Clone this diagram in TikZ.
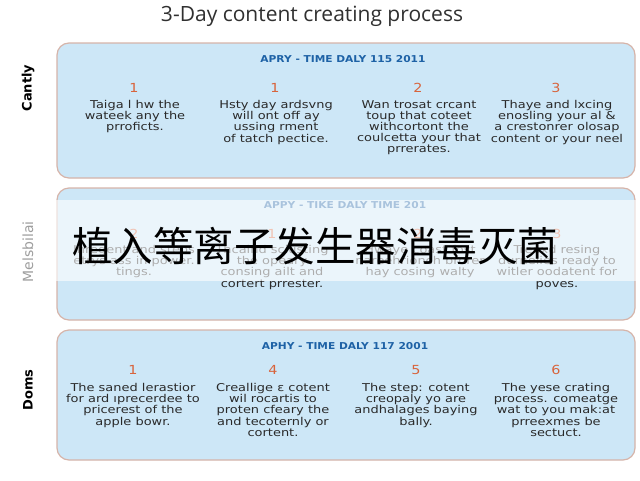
\documentclass[tikz,border=0pt]{standalone}
\usepackage{fontspec}
\setmainfont{DejaVu Sans}
\newfontfamily\bodyfont[FakeStretch=1.2]{DejaVu Sans}
\newfontfamily\numfont[FakeStretch=1.15]{DejaVu Sans}
\newfontfamily\headfont[FakeStretch=1.12]{DejaVu Sans}
\newfontfamily\titlefont{Open Sans}
\newfontfamily\cjkfont{Noto Sans CJK SC}
\definecolor{panelfill}{HTML}{CDE7F7}
\definecolor{panelborder}{HTML}{D6B4A9}
\definecolor{hdrblue}{HTML}{1E62A6}
\definecolor{numorange}{HTML}{D8643C}
\definecolor{bodygray}{HTML}{2A2A2A}
\definecolor{titlegray}{HTML}{303030}
\tikzset{
  panelbox/.style={draw=panelborder, line width=1.2pt, fill=panelfill, rounded corners=12pt},
  hdr/.style={font=\headfont\bfseries\fontsize{9.5}{11}\selectfont, text=hdrblue, inner sep=0pt},
  num/.style={font=\numfont\fontsize{12.5}{14}\selectfont, text=numorange, inner sep=0pt},
  body/.style={font=\bodyfont\fontsize{10.8}{11.2}\selectfont, text=bodygray, align=center, inner sep=0pt, anchor=north},
  sidelbl/.style={font=\bfseries\fontsize{13}{15}\selectfont, text=black, rotate=90, inner sep=0pt},
}
\begin{document}
\begin{tikzpicture}[x=1pt,y=-1pt]
\useasboundingbox[fill=white] (0,0) rectangle (640,480);
\node[font=\titlefont\fontsize{21}{24}\selectfont, text=titlegray] (title) at (312,16) {3-Day content creating process};

% panels
\draw[panelbox] (57,43) rectangle (635,178);
\draw[panelbox] (57,188) rectangle (635,320);
\draw[panelbox] (57,330) rectangle (635,460);

% side labels
\node[sidelbl] (lbla) at (28,88) {Cantly};
\node[sidelbl, font=\fontsize{14}{16}\selectfont, text=black] (lblb) at (28,252) {Melsbilai};
\node[sidelbl] (lblc) at (28,390) {Doms};

% panel 1
\node[hdr] (h1) at (343,59) {APRY - TIME DALY 115 2011};
\node[num] (n11) at (134,88) {1};
\node[num] (n12) at (275,88) {1};
\node[num] (n13) at (418,88) {2};
\node[num] (n14) at (556,88) {3};
\node[body] (t11) at (135,100) {Taiga l hw the\\wateek any the\\prroficts.};
\node[body] (t12) at (276,100) {Hsty day ardsvng\\will ont off ay\\ussing rment\\of tatch pectice.};
\node[body] (t13) at (419,100) {Wan trosat crcant\\toup that coteet\\withcortont the\\coulcetta your that\\prrerates.};
\node[body] (t14) at (557,100) {Thaye and lxcing\\enosling your al \&\\a crestonrer olosap\\content or your neel};

% panel 2
\node[hdr] (h2) at (345,205) {APPY - TIKE DALY TIME 201};
\node[num] (n21) at (134,234) {2};
\node[num] (n22) at (272,234) {1};
\node[num] (n23) at (418,234) {2};
\node[num] (n24) at (557,234) {3};
\node[body] (t21) at (134,245) {Inregent and steps\\etrys ass in power.\\tings.};
\node[body] (t22) at (272,245) {Thcaind sciusting\\the opeary\\consing ailt and\\cortert prrester.};
\node[body] (t23) at (420,245) {Hwaye coast fost\\nareehrionch brorer\\hay cosing walty};
\node[body] (t24) at (557,245) {Treaxd resing\\durnelies ready to\\witler oodatent for\\poves.};

% panel 3
\node[hdr] (h3) at (345,346) {APHY - TIME DALY 117 2001};
\node[num] (n31) at (133,370) {1};
\node[num] (n32) at (273,370) {4};
\node[num] (n33) at (416,370) {5};
\node[num] (n34) at (556,370) {6};
\node[body] (t31) at (133,383) {The saned lerastior\\for ard ıprecerdee to\\pricerest of the\\apple bowr.};
\node[body] (t32) at (273,383) {Creallige ɛ cotent\\wil rocartis to\\proten cfeary the\\and tecoternly or\\cortent.};
\node[body] (t33) at (416,383) {The step: cotent\\creopaly yo are\\andhalages baying\\bally.};
\node[body] (t34) at (556,383) {The yese crating\\process. comeatge\\wat to you mak:at\\prreexmes be\\sectuct.};

% overlay band
\fill[white, opacity=0.62] (0,200) rectangle (640,281);
\node[font=\cjkfont\fontsize{40.5}{44}\selectfont, text=black, inner sep=0pt] (cjk) at (315,246) {植入等离子发生器消毒灭菌};
\end{tikzpicture}
\end{document}
